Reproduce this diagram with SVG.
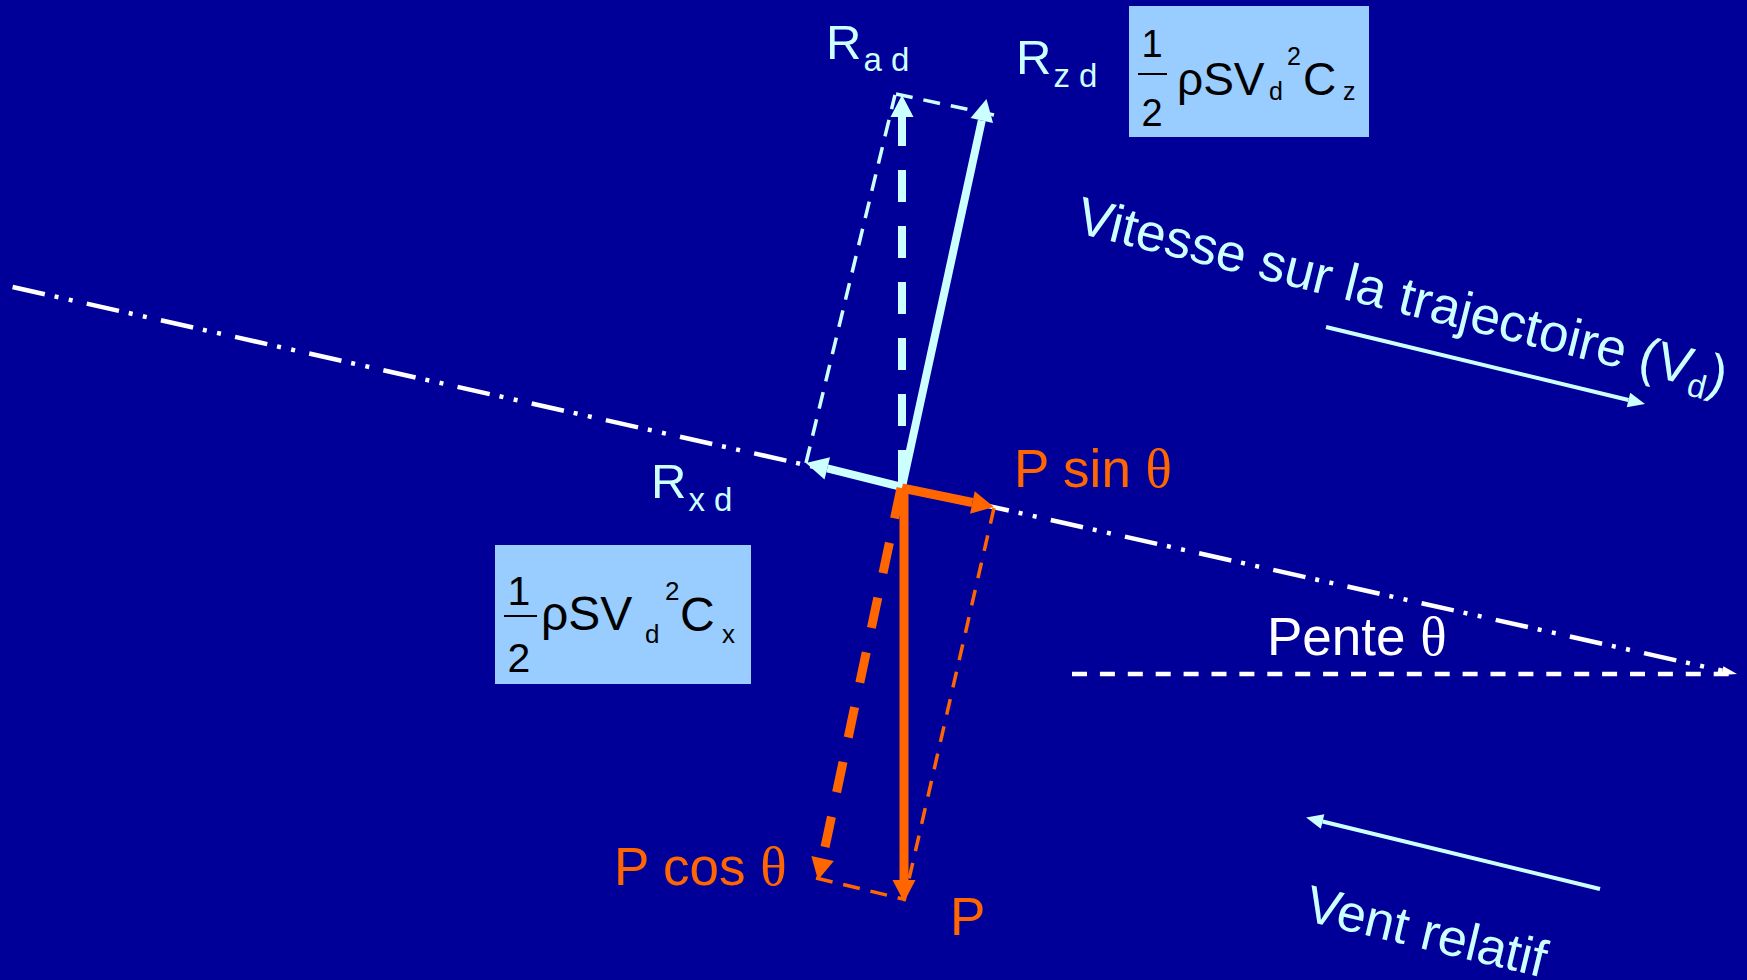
<svg xmlns="http://www.w3.org/2000/svg" width="1747" height="980" viewBox="0 0 1747 980">
<style>
text{font-family:"Liberation Sans",Arial,sans-serif}
.th{font-family:"Liberation Serif","Times New Roman",serif}
.cy{fill:#CCFFFF}
.or{fill:#FF6600}
.wh{fill:#FFFFFF}
.bk{fill:#000000}
.lbl{font-size:49px}
.sub{font-size:33px}
.big{font-size:53px}
.box{fill:#99CCFF}
.vc{fill:none;stroke:#CCFFFF;stroke-width:8}
.vo{fill:none;stroke:#FF6600;stroke-width:9}
.thinC{fill:none;stroke:#CCFFFF;stroke-width:3.5;stroke-dasharray:17 11}
.thinO{fill:none;stroke:#FF6600;stroke-width:3.5;stroke-dasharray:16 12}
</style>
<defs>
<marker id="ahC" markerUnits="userSpaceOnUse" markerWidth="30" markerHeight="30" refX="0" refY="0" orient="auto" overflow="visible"><path d="M0,-11.5 L22,0 L0,11.5 Z" fill="#CCFFFF"/></marker>
<marker id="ahO" markerUnits="userSpaceOnUse" markerWidth="30" markerHeight="30" refX="0" refY="0" orient="auto" overflow="visible"><path d="M0,-11.5 L22,0 L0,11.5 Z" fill="#FF6600"/></marker>
<marker id="ahCs" markerUnits="userSpaceOnUse" markerWidth="20" markerHeight="20" refX="0" refY="0" orient="auto" overflow="visible"><path d="M0,-7.5 L17,0 L0,7.5 Z" fill="#CCFFFF"/></marker>
<marker id="ahW" markerUnits="userSpaceOnUse" markerWidth="20" markerHeight="20" refX="0" refY="0" orient="auto" overflow="visible"><path d="M0,-4.5 L15,0 L0,4.5 Z" fill="#FFFFFF"/></marker>
</defs>
<rect x="0" y="0" width="1747" height="980" fill="#000099"/>

<g id="reference-lines">
<path d="M12.6,287 L1722.4,670.7" fill="none" stroke="#FFFFFF" stroke-width="4.5" stroke-dasharray="33 10 4 10.5 4 14.5" marker-end="url(#ahW)"/>
<path d="M1072,674 L1737,674" fill="none" stroke="#FFFFFF" stroke-width="4.5" stroke-dasharray="15 12.9"/>
</g>

<g id="connectors">
<path class="thinC" d="M806,463 L895,95"/>
<path class="thinC" d="M896,94 L994,115"/>
<path class="thinO" d="M994,508 L904,901"/>
<path class="thinO" d="M816,878 L903,899" style="stroke-dasharray:17 11"/>
<path d="M1326,327 L1628.5,400" fill="none" stroke="#CCFFFF" stroke-width="4" marker-end="url(#ahCs)"/>
<path d="M1600,889 L1322.6,821.5" fill="none" stroke="#CCFFFF" stroke-width="4" marker-end="url(#ahCs)"/>
</g>

<g id="vector-Rad"><path class="vc" d="M902,487 L902,117" stroke-dasharray="32 24" stroke-dashoffset="51" marker-end="url(#ahC)"/></g>
<g id="vector-Rzd"><path class="vc" d="M902,487 L981.8,120.5" marker-end="url(#ahC)"/></g>
<g id="vector-Rxd"><path class="vc" d="M902,487 L827.3,468.3" marker-end="url(#ahC)"/></g>
<g id="vector-Pcos"><path class="vo" d="M901,488 L822.6,858.5" stroke-width="9.5" stroke-dasharray="31 25" marker-end="url(#ahO)"/></g>
<g id="vector-P"><path class="vo" d="M904,488 L904,880" stroke-width="8" marker-end="url(#ahO)"/></g>
<g id="vector-Psin"><path class="vo" d="M902,488 L972.4,502.5" marker-end="url(#ahO)"/></g>

<g id="label-Rad"><text class="cy lbl" x="826" y="59">R<tspan class="sub" dx="2" y="71">a d</tspan></text></g>
<g id="label-Rzd"><text class="cy lbl" x="1016" y="74">R<tspan class="sub" dx="2" y="87">z d</tspan></text></g>
<g id="label-Rxd"><text class="cy lbl" x="651" y="498">R<tspan class="sub" dx="2" y="511">x d</tspan></text></g>

<g id="formula-Cz">
<rect class="box" x="1129" y="6" width="240" height="131"/>
<text class="bk" x="1152" y="57" font-size="38" text-anchor="middle">1</text>
<line x1="1138" y1="74" x2="1167" y2="74" stroke="#000000" stroke-width="2"/>
<text class="bk" x="1152" y="126" font-size="38" text-anchor="middle">2</text>
<text class="bk" font-size="46" y="95"><tspan x="1177">ρSV</tspan><tspan x="1269" y="100" font-size="25">d</tspan><tspan x="1287" y="65" font-size="25">2</tspan><tspan x="1303" y="95">C</tspan><tspan x="1343" y="100" font-size="25">z</tspan></text>
</g>

<g id="formula-Cx">
<rect class="box" x="495" y="545" width="256" height="139"/>
<text class="bk" x="519" y="605" font-size="41" text-anchor="middle">1</text>
<line x1="504" y1="616" x2="537" y2="616" stroke="#000000" stroke-width="2"/>
<text class="bk" x="519" y="672" font-size="41" text-anchor="middle">2</text>
<text class="bk" font-size="48" y="630"><tspan x="541">ρSV</tspan><tspan x="645" y="643" font-size="26">d</tspan><tspan x="665" y="600" font-size="26">2</tspan><tspan x="680" y="631">C</tspan><tspan x="722" y="643" font-size="26">x</tspan></text>
</g>

<g id="label-Psin"><text class="or big" x="1014" y="487">P sin <tspan class="th" font-size="55">θ</tspan></text></g>
<g id="label-Pcos"><text class="or big" x="614" y="885">P cos <tspan class="th" font-size="55">θ</tspan></text></g>
<g id="label-P"><text class="or big" x="950" y="935">P</text></g>
<g id="label-pente"><text class="wh big" x="1267" y="655">Pente <tspan class="th" font-size="55">θ</tspan></text></g>

<g id="label-vitesse"><text class="cy" font-size="53" transform="translate(1074,232) rotate(14)">Vitesse sur la trajectoire (V<tspan font-size="33" dy="10">d</tspan><tspan dy="-10">)</tspan></text></g>
<g id="label-vent"><text class="cy" font-size="52" transform="translate(1303,920) rotate(13.5)">Vent relatif</text></g>
</svg>
